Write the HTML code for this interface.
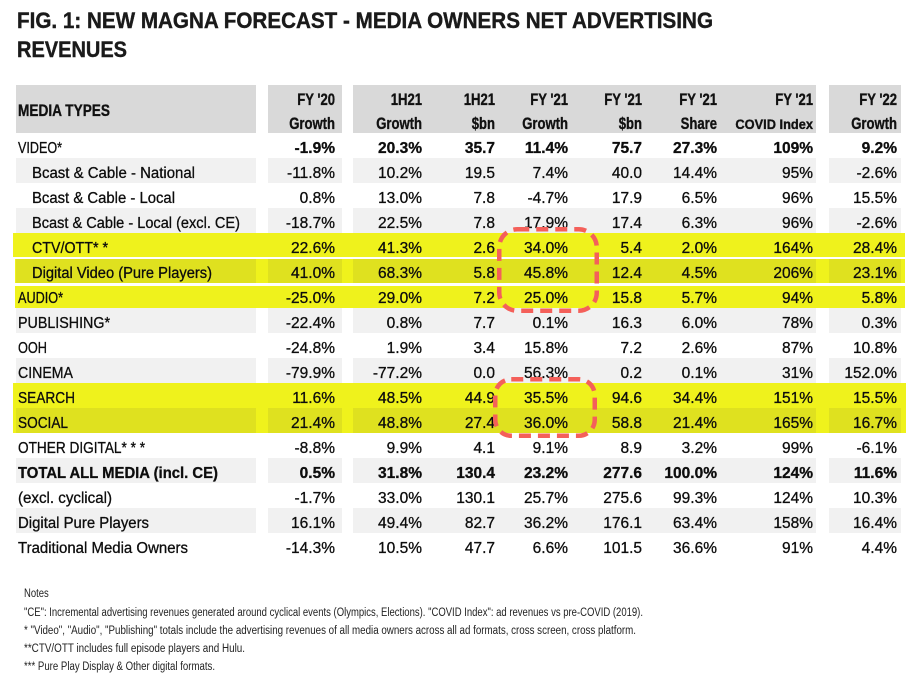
<!DOCTYPE html>
<html><head><meta charset="utf-8"><style>
html,body{margin:0;padding:0;background:#fff;}
svg{display:block;}
text{font-family:"Liberation Sans",Arial,sans-serif;}
</style></head><body>
<svg width="906" height="680" viewBox="0 0 906 680" xmlns="http://www.w3.org/2000/svg">
<rect width="906" height="680" fill="#fff"/>
<!-- Title -->
<g font-size="22" font-weight="bold" fill="#1a1a1a" stroke="#1a1a1a" stroke-width="0.4">
<text x="17" y="28" textLength="696" lengthAdjust="spacingAndGlyphs">FIG. 1: NEW MAGNA FORECAST - MEDIA OWNERS NET ADVERTISING</text>
<text x="17" y="57" textLength="110" lengthAdjust="spacingAndGlyphs">REVENUES</text>
</g>

<!-- Header blocks -->
<g fill="#d9d9d9">
<rect x="16" y="85" width="240" height="48"/>
<rect x="268" y="85" width="74" height="48"/>
<rect x="353" y="85" width="463" height="48"/>
<rect x="829" y="85" width="72" height="48"/>
</g>
<g font-weight="bold" font-size="17" fill="#111" stroke="#111" stroke-width="0.35">
<text x="18" y="116" textLength="92" lengthAdjust="spacingAndGlyphs">MEDIA TYPES</text>
<g text-anchor="end">
<text transform="translate(335,105) scale(0.77,1)">FY '20</text>
<text transform="translate(335,129) scale(0.77,1)">Growth</text>
<text transform="translate(422,105) scale(0.77,1)">1H21</text>
<text transform="translate(422,129) scale(0.77,1)">Growth</text>
<text transform="translate(495,105) scale(0.77,1)">1H21</text>
<text transform="translate(495,129) scale(0.77,1)">$bn</text>
<text transform="translate(568,105) scale(0.77,1)">FY '21</text>
<text transform="translate(568,129) scale(0.77,1)">Growth</text>
<text transform="translate(642,105) scale(0.77,1)">FY '21</text>
<text transform="translate(642,129) scale(0.77,1)">$bn</text>
<text transform="translate(717,105) scale(0.77,1)">FY '21</text>
<text transform="translate(717,129) scale(0.77,1)">Share</text>
<text transform="translate(813,105) scale(0.77,1)">FY '21</text>
<text transform="translate(813,129) scale(0.95,1)" font-size="13.5">COVID Index</text>
<text transform="translate(897,105) scale(0.77,1)">FY '22</text>
<text transform="translate(897,129) scale(0.77,1)">Growth</text>
</g>
</g>

<!-- Gray alternating rows -->
<g fill="#f1f1f1">
<rect x="16" y="158" width="240" height="25"/><rect x="268" y="158" width="74" height="25"/><rect x="353" y="158" width="463" height="25"/><rect x="829" y="158" width="72" height="25"/>
<rect x="16" y="208" width="240" height="25"/><rect x="268" y="208" width="74" height="25"/><rect x="353" y="208" width="463" height="25"/><rect x="829" y="208" width="72" height="25"/>
<rect x="16" y="308" width="240" height="25"/><rect x="268" y="308" width="74" height="25"/><rect x="353" y="308" width="463" height="25"/><rect x="829" y="308" width="72" height="25"/>
<rect x="16" y="358" width="240" height="25"/><rect x="268" y="358" width="74" height="25"/><rect x="353" y="358" width="463" height="25"/><rect x="829" y="358" width="72" height="25"/>
<rect x="16" y="458" width="240" height="25"/><rect x="268" y="458" width="74" height="25"/><rect x="353" y="458" width="463" height="25"/><rect x="829" y="458" width="72" height="25"/>
<rect x="16" y="508" width="240" height="25"/><rect x="268" y="508" width="74" height="25"/><rect x="353" y="508" width="463" height="25"/><rect x="829" y="508" width="72" height="25"/>
</g>

<!-- Yellow highlights -->
<g fill="#eff21c">
<rect x="13" y="233" width="892" height="24"/>
<rect x="15" y="259" width="890" height="24"/>
<rect x="15" y="286" width="890" height="22"/>
<rect x="13" y="383" width="893" height="50"/>
</g>
<g fill="#dfe11f">
<rect x="16" y="259" width="240" height="24"/><rect x="268" y="259" width="74" height="24"/><rect x="353" y="259" width="463" height="24"/><rect x="829" y="259" width="72" height="24"/>
<rect x="16" y="408" width="240" height="25"/><rect x="268" y="408" width="74" height="25"/><rect x="353" y="408" width="463" height="25"/><rect x="829" y="408" width="72" height="25"/>
</g>

<!-- Labels -->
<g font-size="15.5" fill="#0d0d0d" stroke="#0d0d0d" stroke-width="0.3">
<text x="18" y="153" textLength="44" lengthAdjust="spacingAndGlyphs">VIDEO*</text>
<text x="32" y="178" textLength="163" lengthAdjust="spacingAndGlyphs">Bcast &amp; Cable - National</text>
<text x="32" y="203" textLength="143" lengthAdjust="spacingAndGlyphs">Bcast &amp; Cable - Local</text>
<text x="32" y="228" textLength="208" lengthAdjust="spacingAndGlyphs">Bcast &amp; Cable - Local (excl. CE)</text>
<text x="32" y="253" textLength="76" lengthAdjust="spacingAndGlyphs">CTV/OTT* *</text>
<text x="32" y="278" textLength="180" lengthAdjust="spacingAndGlyphs">Digital Video (Pure Players)</text>
<text x="18" y="303" textLength="45" lengthAdjust="spacingAndGlyphs">AUDIO*</text>
<text x="18" y="328" textLength="92" lengthAdjust="spacingAndGlyphs">PUBLISHING*</text>
<text x="18" y="353" textLength="29" lengthAdjust="spacingAndGlyphs">OOH</text>
<text x="18" y="378" textLength="55" lengthAdjust="spacingAndGlyphs">CINEMA</text>
<text x="18" y="403" textLength="57" lengthAdjust="spacingAndGlyphs">SEARCH</text>
<text x="18" y="428" textLength="50" lengthAdjust="spacingAndGlyphs">SOCIAL</text>
<text x="18" y="453" textLength="127" lengthAdjust="spacingAndGlyphs">OTHER DIGITAL* * *</text>
<text x="18" y="478" font-weight="bold" textLength="200" lengthAdjust="spacingAndGlyphs">TOTAL ALL MEDIA (incl. CE)</text>
<text x="18" y="503" textLength="94" lengthAdjust="spacingAndGlyphs">(excl. cyclical)</text>
<text x="18" y="528" textLength="131" lengthAdjust="spacingAndGlyphs">Digital Pure Players</text>
<text x="18" y="553" textLength="170" lengthAdjust="spacingAndGlyphs">Traditional Media Owners</text>
</g>

<!-- Values -->
<g font-size="15.5" fill="#0d0d0d" stroke="#0d0d0d" stroke-width="0.3" text-anchor="end">
<g font-weight="bold">
<text x="335" y="153">-1.9%</text><text x="422" y="153">20.3%</text><text x="495" y="153">35.7</text><text x="568" y="153">11.4%</text><text x="642" y="153">75.7</text><text x="717" y="153">27.3%</text><text x="813" y="153">109%</text><text x="897" y="153">9.2%</text>
</g>
<text x="335" y="178">-11.8%</text><text x="422" y="178">10.2%</text><text x="495" y="178">19.5</text><text x="568" y="178">7.4%</text><text x="642" y="178">40.0</text><text x="717" y="178">14.4%</text><text x="813" y="178">95%</text><text x="897" y="178">-2.6%</text>
<text x="335" y="203">0.8%</text><text x="422" y="203">13.0%</text><text x="495" y="203">7.8</text><text x="568" y="203">-4.7%</text><text x="642" y="203">17.9</text><text x="717" y="203">6.5%</text><text x="813" y="203">96%</text><text x="897" y="203">15.5%</text>
<text x="335" y="228">-18.7%</text><text x="422" y="228">22.5%</text><text x="495" y="228">7.8</text><text x="568" y="228">17.9%</text><text x="642" y="228">17.4</text><text x="717" y="228">6.3%</text><text x="813" y="228">96%</text><text x="897" y="228">-2.6%</text>
<text x="335" y="253">22.6%</text><text x="422" y="253">41.3%</text><text x="495" y="253">2.6</text><text x="568" y="253">34.0%</text><text x="642" y="253">5.4</text><text x="717" y="253">2.0%</text><text x="813" y="253">164%</text><text x="897" y="253">28.4%</text>
<text x="335" y="278">41.0%</text><text x="422" y="278">68.3%</text><text x="495" y="278">5.8</text><text x="568" y="278">45.8%</text><text x="642" y="278">12.4</text><text x="717" y="278">4.5%</text><text x="813" y="278">206%</text><text x="897" y="278">23.1%</text>
<text x="335" y="303">-25.0%</text><text x="422" y="303">29.0%</text><text x="495" y="303">7.2</text><text x="568" y="303">25.0%</text><text x="642" y="303">15.8</text><text x="717" y="303">5.7%</text><text x="813" y="303">94%</text><text x="897" y="303">5.8%</text>
<text x="335" y="328">-22.4%</text><text x="422" y="328">0.8%</text><text x="495" y="328">7.7</text><text x="568" y="328">0.1%</text><text x="642" y="328">16.3</text><text x="717" y="328">6.0%</text><text x="813" y="328">78%</text><text x="897" y="328">0.3%</text>
<text x="335" y="353">-24.8%</text><text x="422" y="353">1.9%</text><text x="495" y="353">3.4</text><text x="568" y="353">15.8%</text><text x="642" y="353">7.2</text><text x="717" y="353">2.6%</text><text x="813" y="353">87%</text><text x="897" y="353">10.8%</text>
<text x="335" y="378">-79.9%</text><text x="422" y="378">-77.2%</text><text x="495" y="378">0.0</text><text x="568" y="378">56.3%</text><text x="642" y="378">0.2</text><text x="717" y="378">0.1%</text><text x="813" y="378">31%</text><text x="897" y="378">152.0%</text>
<text x="335" y="403">11.6%</text><text x="422" y="403">48.5%</text><text x="495" y="403">44.9</text><text x="568" y="403">35.5%</text><text x="642" y="403">94.6</text><text x="717" y="403">34.4%</text><text x="813" y="403">151%</text><text x="897" y="403">15.5%</text>
<text x="335" y="428">21.4%</text><text x="422" y="428">48.8%</text><text x="495" y="428">27.4</text><text x="568" y="428">36.0%</text><text x="642" y="428">58.8</text><text x="717" y="428">21.4%</text><text x="813" y="428">165%</text><text x="897" y="428">16.7%</text>
<text x="335" y="453">-8.8%</text><text x="422" y="453">9.9%</text><text x="495" y="453">4.1</text><text x="568" y="453">9.1%</text><text x="642" y="453">8.9</text><text x="717" y="453">3.2%</text><text x="813" y="453">99%</text><text x="897" y="453">-6.1%</text>
<g font-weight="bold">
<text x="335" y="478">0.5%</text><text x="422" y="478">31.8%</text><text x="495" y="478">130.4</text><text x="568" y="478">23.2%</text><text x="642" y="478">277.6</text><text x="717" y="478">100.0%</text><text x="813" y="478">124%</text><text x="897" y="478">11.6%</text>
</g>
<text x="335" y="503">-1.7%</text><text x="422" y="503">33.0%</text><text x="495" y="503">130.1</text><text x="568" y="503">25.7%</text><text x="642" y="503">275.6</text><text x="717" y="503">99.3%</text><text x="813" y="503">124%</text><text x="897" y="503">10.3%</text>
<text x="335" y="528">16.1%</text><text x="422" y="528">49.4%</text><text x="495" y="528">82.7</text><text x="568" y="528">36.2%</text><text x="642" y="528">176.1</text><text x="717" y="528">63.4%</text><text x="813" y="528">158%</text><text x="897" y="528">16.4%</text>
<text x="335" y="553">-14.3%</text><text x="422" y="553">10.5%</text><text x="495" y="553">47.7</text><text x="568" y="553">6.6%</text><text x="642" y="553">101.5</text><text x="717" y="553">36.6%</text><text x="813" y="553">91%</text><text x="897" y="553">4.4%</text>
</g>

<!-- Dashed highlight boxes -->
<g fill="none" stroke="#f4605a" stroke-width="4.5" stroke-dasharray="12 7">
<rect x="499.25" y="229.25" width="97.5" height="81.5" rx="18" ry="18"/>
<rect x="495.25" y="379.25" width="99.5" height="56.5" rx="16" ry="16"/>
</g>

<!-- Notes -->
<g font-size="11.5" fill="#222">
<text transform="translate(24,597) scale(0.825,1)">Notes</text>
<text x="24" y="616" textLength="619" lengthAdjust="spacingAndGlyphs">"CE": Incremental advertising revenues generated around cyclical events (Olympics, Elections). "COVID Index": ad revenues vs pre-COVID (2019).</text>
<text x="24" y="634" textLength="612" lengthAdjust="spacingAndGlyphs">* "Video", "Audio", "Publishing" totals include the advertising revenues of all media owners across all ad formats, cross screen, cross platform.</text>
<text x="24" y="652" textLength="221" lengthAdjust="spacingAndGlyphs">**CTV/OTT includes full episode players and Hulu.</text>
<text x="24" y="670" textLength="191" lengthAdjust="spacingAndGlyphs">*** Pure Play Display &amp; Other digital formats.</text>
</g>
</svg>
</body></html>
